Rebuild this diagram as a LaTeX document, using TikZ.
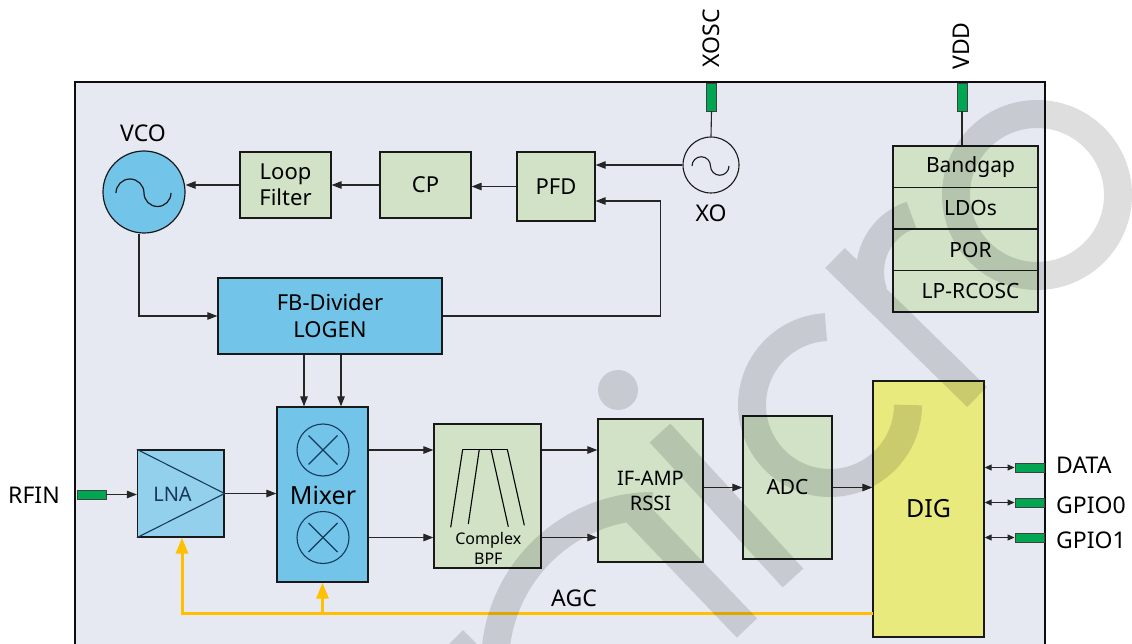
\documentclass[tikz,border=0pt]{standalone}
\usepackage{fontspec}
\setmainfont{Noto Sans}
\usetikzlibrary{arrows.meta,calc}
\definecolor{bgc}{HTML}{E6E9F2}
\definecolor{boxgreen}{HTML}{D1E2C6}
\definecolor{boxblue}{HTML}{72C4E8}
\definecolor{lnablue}{HTML}{93D0EC}
\definecolor{digy}{HTML}{E8EA7E}
\definecolor{pingreen}{HTML}{00A651}
\definecolor{agcy}{HTML}{FFC000}
\definecolor{navy}{HTML}{163A5F}
\newcommand\fsz[2]{\fontsize{#1}{#2}\selectfont}
\tikzset{
  box/.style={draw=black!90, line width=1.3pt, inner sep=0pt, align=center, font=\fsz{22}{26}},
  gbox/.style={box, fill=boxgreen},
  bbox/.style={box, fill=boxblue},
  conn/.style={line width=1.1pt, draw=black!85},
  arr/.style={conn, -{Triangle[length=10pt,width=7.5pt]}},
  darr/.style={conn, {Triangle[length=7pt,width=6pt]}-{Triangle[length=7pt,width=6pt]}},
  agcl/.style={draw=agcy, line width=3pt},
  agcarr/.style={agcl, -{Triangle[length=16pt,width=12pt]}},
  pin/.style={fill=pingreen, draw=black!75, line width=0.9pt, inner sep=0pt},
  lbl/.style={inner sep=0pt, font=\fsz{23}{27}},
  osc/.style={circle, draw=black!90, line width=1.2pt, inner sep=0pt},
  mixc/.style={circle, draw=navy, line width=1.1pt, inner sep=0pt, minimum size=52pt},
}
\begin{document}
\begin{tikzpicture}[x=1pt,y=-1pt]
\useasboundingbox (0,0) rectangle (1132,644);
\clip (0,0) rectangle (1132,644);
\fill[white] (0,0) rectangle (1132,644);
% chip outline
\draw[fill=bgc, line width=2pt, draw=black!95] (75,82) rectangle (1045,690);

% pins
\node[pin, minimum width=10pt, minimum height=28pt] (xoscpin) at (711.5,97) {};
\node[pin, minimum width=10pt, minimum height=28pt] (vddpin) at (962,97) {};
\node[pin, minimum width=29pt, minimum height=9pt] (rfpin) at (91.5,494.5) {};
\node[pin, minimum width=29pt, minimum height=9pt] (datapin) at (1029.5,467.5) {};
\node[pin, minimum width=29pt, minimum height=9pt] (gpio0pin) at (1029.5,502.5) {};
\node[pin, minimum width=29pt, minimum height=9pt] (gpio1pin) at (1029.5,537.5) {};

% pin labels
\node[lbl, rotate=90] (xosclbl) at (711,38) {XOSC};
\node[lbl, rotate=90] (vddlbl) at (961,46) {VDD};
\node[lbl] (rfinlbl) at (34,495) {RFIN};
\node[lbl, anchor=west] (datalbl) at (1056,465) {DATA};
\node[lbl, anchor=west] (gpio0lbl) at (1056,505) {GPIO0};
\node[lbl, anchor=west] (gpio1lbl) at (1056,540) {GPIO1};

% oscillators
\node[osc, fill=boxblue, minimum size=82pt] (vco) at (144,192) {};
\draw[line width=1.2pt, draw=black!90] (116,193) arc[start angle=180,end angle=0,radius=14pt] arc[start angle=180,end angle=360,radius=13.5pt];
\node[lbl] (vcolbl) at (143,133) {VCO};
\node[osc, line width=1.1pt, minimum size=56pt] (xo) at (711,165) {};
\draw[line width=1.1pt, draw=black!90] (692,166) arc[start angle=180,end angle=0,radius=9.25pt] arc[start angle=180,end angle=360,radius=9.25pt];
\node[lbl] (xolbl) at (711,213) {XO};

% PLL blocks
\node[gbox, minimum width=91pt, minimum height=66pt] (lf) at (285.5,185) {Loop\\Filter};
\node[gbox, minimum width=91pt, minimum height=66pt] (cp) at (425.5,185) {CP};
\node[gbox, minimum width=78pt, minimum height=69pt] (pfd) at (556,186.5) {PFD};
\node[bbox, minimum width=224pt, minimum height=76pt, font=\fsz{22}{27}] (fb) at (330,316) {FB-Divider\\LOGEN};

% power blocks
\node[gbox, minimum width=145pt, minimum height=41.5pt, font=\fsz{21}{25}] (bg) at (965.5,166.75) {\hspace*{10pt}Bandgap};
\node[gbox, minimum width=145pt, minimum height=41.5pt, font=\fsz{21}{25}] (ldo) at (965.5,208.25) {\hspace*{10pt}LDOs};
\node[gbox, minimum width=145pt, minimum height=41.5pt, font=\fsz{21}{25}] (por) at (965.5,249.75) {\hspace*{10pt}POR};
\node[gbox, minimum width=145pt, minimum height=41.5pt, font=\fsz{21}{25}] (rcosc) at (965.5,291.25) {\hspace*{10pt}LP-RCOSC};

% RX chain
\node[box, fill=lnablue, minimum width=86.5pt, minimum height=87pt] (lna) at (180.75,493.5) {};
\draw[navy, line width=1.1pt] (lna.north west) -- (lna.east) -- (lna.south west);
\node[inner sep=0pt, text=navy, font=\fsz{20}{24}] (lnalbl) at (172.5,494) {LNA};
\node[bbox, minimum width=91pt, minimum height=175pt] (mixer) at (322.5,494.5) {};
\node[mixc] (mx1) at (323,450) {};
\node[mixc] (mx2) at (323,537.5) {};
\foreach \m in {mx1,mx2}{
  \draw[navy, line width=1.1pt] ($(\m)+(-14.5,-14.5)$) -- ($(\m)+(14.5,14.5)$);
  \draw[navy, line width=1.1pt] ($(\m)+(-14.5,14.5)$) -- ($(\m)+(14.5,-14.5)$);
}
\node[inner sep=0pt, font=\fsz{25}{30}] (mixlbl) at (323,495) {Mixer};
\node[gbox, minimum width=107pt, minimum height=144pt] (bpf) at (487.5,496) {};
\draw[line width=1.1pt] (462.7,449.3) -- (507.3,449.3);
\draw[line width=1.1pt] (462.7,449.3) -- (450.7,527.3);
\draw[line width=1.1pt] (479.3,449.3) -- (468.3,524);
\draw[line width=1.1pt] (491,449.3) -- (508.3,526.7);
\draw[line width=1.1pt] (507.3,449.3) -- (524.3,525.3);
\node[inner sep=0pt, font=\fsz{16}{20}, align=center] (bpflbl) at (488.3,548) {Complex\\BPF};
\node[gbox, minimum width=105pt, minimum height=143pt, font=\fsz{20}{25}] (ifamp) at (650.5,490.5) {IF-AMP\\RSSI};
\node[gbox, minimum width=89pt, minimum height=143pt, font=\fsz{21}{25}] (adc) at (787.5,487.5) {ADC};
\node[box, fill=digy, minimum width=111pt, minimum height=256pt, font=\fsz{25}{30}] (dig) at (928.5,509) {DIG};

% connectors
\draw[conn] (xoscpin.south) -- (xo.north);
\draw[conn] (vddpin.south) -- (vddpin.south |- bg.north);
\draw[arr] (xo.west) -- (xo.west -| pfd.east);
\draw[arr] (pfd.west) -- (pfd.west -| cp.east);
\draw[arr] (cp.west) -- (lf.east);
\draw[arr] (lf.west) -- (lf.west -| vco.east);
\draw[arr] ([xshift=-5pt]vco.south) |- (fb.west);
\draw[arr] (fb.east) -- ++(218,0) |- ([yshift=-14.5pt]pfd.east);
\draw[arr] ([xshift=-26pt]fb.south) -- ([xshift=-26pt]fb.south |- mixer.north);
\draw[arr] ([xshift=11pt]fb.south) -- ([xshift=11pt]fb.south |- mixer.north);
\draw[arr] (rfpin.east) -- (rfpin.east -| lna.west);
\draw[arr] (lna.east) -- (lna.east -| mixer.west);
\draw[arr] (mx1 -| mixer.east) -- (mx1 -| bpf.west);
\draw[arr] (mx2 -| mixer.east) -- (mx2 -| bpf.west);
\draw[arr] (mx1 -| bpf.east) -- (mx1 -| ifamp.west);
\draw[arr] (mx2 -| bpf.east) -- (mx2 -| ifamp.west);
\draw[arr] (adc.west -| ifamp.east) -- (adc.west);
\draw[arr] (adc.east) -- (adc.east -| dig.west);
\draw[darr] (datapin.west -| dig.east) -- (datapin.west);
\draw[darr] (gpio0pin.west -| dig.east) -- (gpio0pin.west);
\draw[darr] (gpio1pin.west -| dig.east) -- (gpio1pin.west);

% AGC
\coordinate (agc) at (873,613);
\draw[agcarr] (agc) -| ([xshift=1.25pt]lna.south);
\draw[agcarr] (agc -| mixer.south) -- (mixer.south);
\node[lbl] (agclbl) at (574,598.5) {AGC};

% watermark
\begin{scope}[transparency group, opacity=0.13]
\begin{scope}[line width=28pt, draw=black, line cap=butt]
\draw (1037,195) circle[radius=81pt];
\draw (830,405) ++(93:78pt) arc[start angle=93, end angle=360, radius=78pt];
\draw (835,258) -- (977,397);
\draw (930,272) ++(200:60pt) arc[start angle=200, end angle=108, radius=60pt];
\fill (618,390) circle[radius=20pt];
\draw (660,433) -- (793,578);
\draw (653,664) ++(180:158pt) arc[start angle=180, end angle=90, radius=158pt];
\draw (632,508) -- (747,628);
\draw (453,640) -- (500,687);
\end{scope}
\end{scope}
\end{tikzpicture}
\end{document}
